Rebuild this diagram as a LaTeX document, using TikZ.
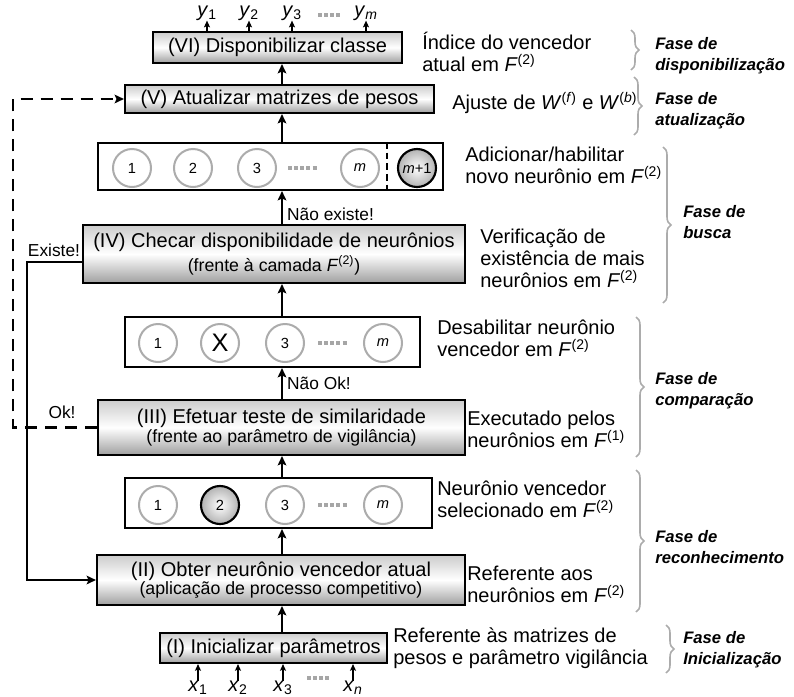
\documentclass[tikz,border=0pt]{standalone}
\usepackage{fontspec}
\setmainfont{Liberation Sans}
\usetikzlibrary{arrows.meta,decorations.pathreplacing,calc}
\tikzset{
  proc/.style={draw=black, line width=1.6pt, rectangle, inner sep=0pt, top color=gray!40, bottom color=gray!75, middle color=white, align=center},
  layer/.style={draw=black, line width=1.6pt, rectangle, inner sep=0pt, fill=white},
  neu/.style={circle, draw=gray!65, line width=1.5pt, fill=white, minimum size=28.5pt, inner sep=0pt, font=\fontsize{11}{12}\selectfont},
  win/.style={circle, draw=black, line width=1.6pt, inner color=white, outer color=gray!60, minimum size=28.5pt, inner sep=0pt, font=\fontsize{11}{12}\selectfont},
  arr/.style={line width=1.8pt, -{Stealth[length=7pt,width=6.5pt,inset=1.5pt]}},
  sarr/.style={line width=1pt, -{Stealth[length=5pt,width=4.5pt,inset=1pt]}},
  dotsg/.style={gray!70, line width=3pt, dash pattern=on 3pt off 1.6pt},
  desc/.style={anchor=west, inner sep=0pt, align=left, font=\fontsize{15}{16.5}\selectfont},
  fase/.style={anchor=west, inner sep=0pt, align=left, font=\fontsize{12.5}{16}\selectfont\bfseries\itshape},
  br/.style={gray!65, line width=1.2pt, decorate, decoration={brace, amplitude=6pt}},
  lbl/.style={inner sep=0pt, font=\fontsize{13}{15}\selectfont},
  io/.style={inner sep=0pt, font=\fontsize{15}{16}\selectfont},
}
\newcommand{\Ff}[1]{\textit{F}\textsuperscript{(#1)}}
\begin{document}
\begin{tikzpicture}[x=0.75pt,y=-0.75pt]
\useasboundingbox (0,0) rectangle (794,697);
\coordinate (main) at (282,0);
\coordinate (dl) at (13,0);
\coordinate (sl) at (27,0);
\coordinate (sep) at (387,0);

% process boxes
\node[proc, minimum width=186.75pt, minimum height=23.25pt, font=\fontsize{15}{16}\selectfont] (VI) at (277.5,47.5) {(VI) Disponibilizar classe};
\node[proc, minimum width=231.75pt, minimum height=21pt, font=\fontsize{15}{16}\selectfont] (V) at (279.5,99) {(V) Atualizar matrizes de pesos};
\node[proc, minimum width=286.5pt, minimum height=43.5pt] (IV) at (274,254) {\fontsize{15}{18}\selectfont (IV) Checar disponibilidade de neurônios\\[1.5pt] \fontsize{13.3}{15}\selectfont (frente à camada \Ff{2})};
\node[proc, minimum width=275.25pt, minimum height=41.25pt] (III) at (281.5,427.5) {\fontsize{15}{18}\selectfont (III) Efetuar teste de similaridade\\[0.5pt] \fontsize{13.3}{15}\selectfont (frente ao parâmetro de vigilância)};
\node[proc, minimum width=276pt, minimum height=37.5pt] (II) at (281,580) {\fontsize{15}{18}\selectfont (II) Obter neurônio vencedor atual\\[-0.5pt] \fontsize{13.3}{15}\selectfont (aplicação de processo competitivo)};
\node[proc, minimum width=170.25pt, minimum height=22.5pt, font=\fontsize{15}{16}\selectfont] (I) at (273.5,648) {(I) Inicializar parâmetros};

% layer boxes
\node[layer, minimum width=258.75pt, minimum height=35.25pt] (L1) at (270.5,166.5) {};
\node[layer, minimum width=221.25pt, minimum height=37.5pt] (L2) at (272.5,342) {};
\node[layer, minimum width=230.25pt, minimum height=37.5pt] (L3) at (278.5,503) {};

% neurons layer 1
\node[neu] (a1) at (132,168) {1};
\node[neu] (a2) at (193,168) {2};
\node[neu] (a3) at (257,168) {3};
\node[neu] (am) at (360,168) {\textit{m}};
\node[win] (am1) at (417,168) {\textit{m}+1};
\draw[dotsg] (288,168) -- (317,168);
\draw[line width=1.5pt, dash pattern=on 5pt off 3pt] (L1.north -| sep) -- (L1.south -| sep);

% neurons layer 2
\node[neu] (b1) at (158,343) {1};
\node[neu, font=\fontsize{19}{20}\selectfont] (bx) at (220,343) {\textcolor{black}{X}};
\node[neu] (b3) at (285,343) {3};
\node[neu] (bm) at (383,343) {\textit{m}};
\draw[dotsg] (318,343) -- (347,343);

% neurons layer 3
\node[neu] (c1) at (158,505) {1};
\node[win] (c2) at (220,505) {2};
\node[neu] (c3) at (285,505) {3};
\node[neu] (cm) at (383,505) {\textit{m}};
\draw[dotsg] (318,505) -- (347,505);

% main arrows
\draw[arr] (I.north -| main) -- (II.south -| main);
\draw[arr] (II.north -| main) -- (L3.south -| main);
\draw[arr] (L3.north -| main) -- (III.south -| main);
\draw[arr] (III.north -| main) -- (L2.south -| main) node[lbl, pos=0.5, anchor=west, xshift=3pt] (nok) {Não Ok!};
\draw[arr] (L2.north -| main) -- (IV.south -| main);
\draw[arr] (IV.north -| main) -- (L1.south -| main) node[lbl, pos=0.3, anchor=west, xshift=3pt] (nex) {Não existe!};
\draw[arr] (L1.north -| main) -- (V.south -| main);
\draw[arr] (V.north -| main) -- (VI.south -| main);

% feedback connectors
\draw[line width=2.2pt, dash pattern=on 9pt off 6pt, -{Stealth[length=7pt,width=6.5pt,inset=1.5pt]}] (III.west) -- (III.west -| dl) |- (V.west);
\draw[line width=1.8pt, -{Stealth[length=7pt,width=6.5pt,inset=1.5pt]}] ($(IV.west)+(0,8)$) -- ($(IV.west -| sl)+(0,8)$) |- (II.west);
\node[lbl] (ex) at (54,250) {Existe!};
\node[lbl] (ok) at (62,412) {Ok!};

% outputs
\node[io] (y1) at (207,13) {\textit{y}\textsubscript{1}};
\node[io] (y2) at (249,13) {\textit{y}\textsubscript{2}};
\node[io] (y3) at (292,13) {\textit{y}\textsubscript{3}};
\node[io] (ym) at (366,13) {\textit{y}\textsubscript{\textit{m}}};
\foreach \n in {y1,y2,y3,ym} \draw[sarr] (VI.north -| \n) -- (\n.south);
\draw[dotsg, line width=2.5pt] (318,15) -- (342,15);

% inputs
\node[io] (x1) at (198,688) {\textit{x}\textsubscript{1}};
\node[io] (x2) at (238,688) {\textit{x}\textsubscript{2}};
\node[io] (x3) at (283,688) {\textit{x}\textsubscript{3}};
\node[io] (xn) at (353,688) {\textit{x}\textsubscript{\textit{n}}};
\foreach \n in {x1,x2,x3,xn} \draw[sarr] (\n.north) -- (I.south -| \n);
\draw[dotsg, line width=2.5pt] (307,678) -- (331,678);

% descriptions
\node[desc] (d6) at (422,52) {Índice do vencedor\\atual em \Ff{2}};
\node[desc] (d5) at (452,103) {Ajuste de \textit{W}\textsuperscript{(\textit{f})} e \textit{W}\textsuperscript{(\textit{b})}};
\node[desc] (d4a) at (465,165) {Adicionar/habilitar\\novo neurônio em \Ff{2}};
\node[desc] (d4) at (480,258) {Verificação de\\existência de mais\\neurônios em \Ff{2}};
\node[desc] (d3a) at (437,338) {Desabilitar neurônio\\vencedor em \Ff{2}};
\node[desc] (d3) at (467,429) {Executado pelos\\neurônios em \Ff{1}};
\node[desc] (d2a) at (437,499) {Neurônio vencedor\\selecionado em \Ff{2}};
\node[desc] (d2) at (467,584) {Referente aos\\neurônios em \Ff{2}};
\node[desc] (d1) at (393,648) {Referente às matrizes de\\pesos e parâmetro vigilância};

% braces
\draw[br] (631,30) -- (631,70);
\draw[br] (634,77) -- (634,135);
\draw[br] (663,147) -- (663,303);
\draw[br] (636,317) -- (636,457);
\draw[br] (636,470) -- (636,612);
\draw[br] (666,625) -- (666,673);

% phase labels
\node[fase] (f6) at (655,56) {Fase de\\disponibilização};
\node[fase] (f5) at (655,111) {Fase de\\atualização};
\node[fase] (f4) at (683,222) {Fase de\\busca};
\node[fase] (f3) at (655,391) {Fase de\\comparação};
\node[fase] (f2) at (655,547) {Fase de\\reconhecimento};
\node[fase] (f1) at (683,650) {Fase de\\Inicialização};
\end{tikzpicture}
\end{document}
